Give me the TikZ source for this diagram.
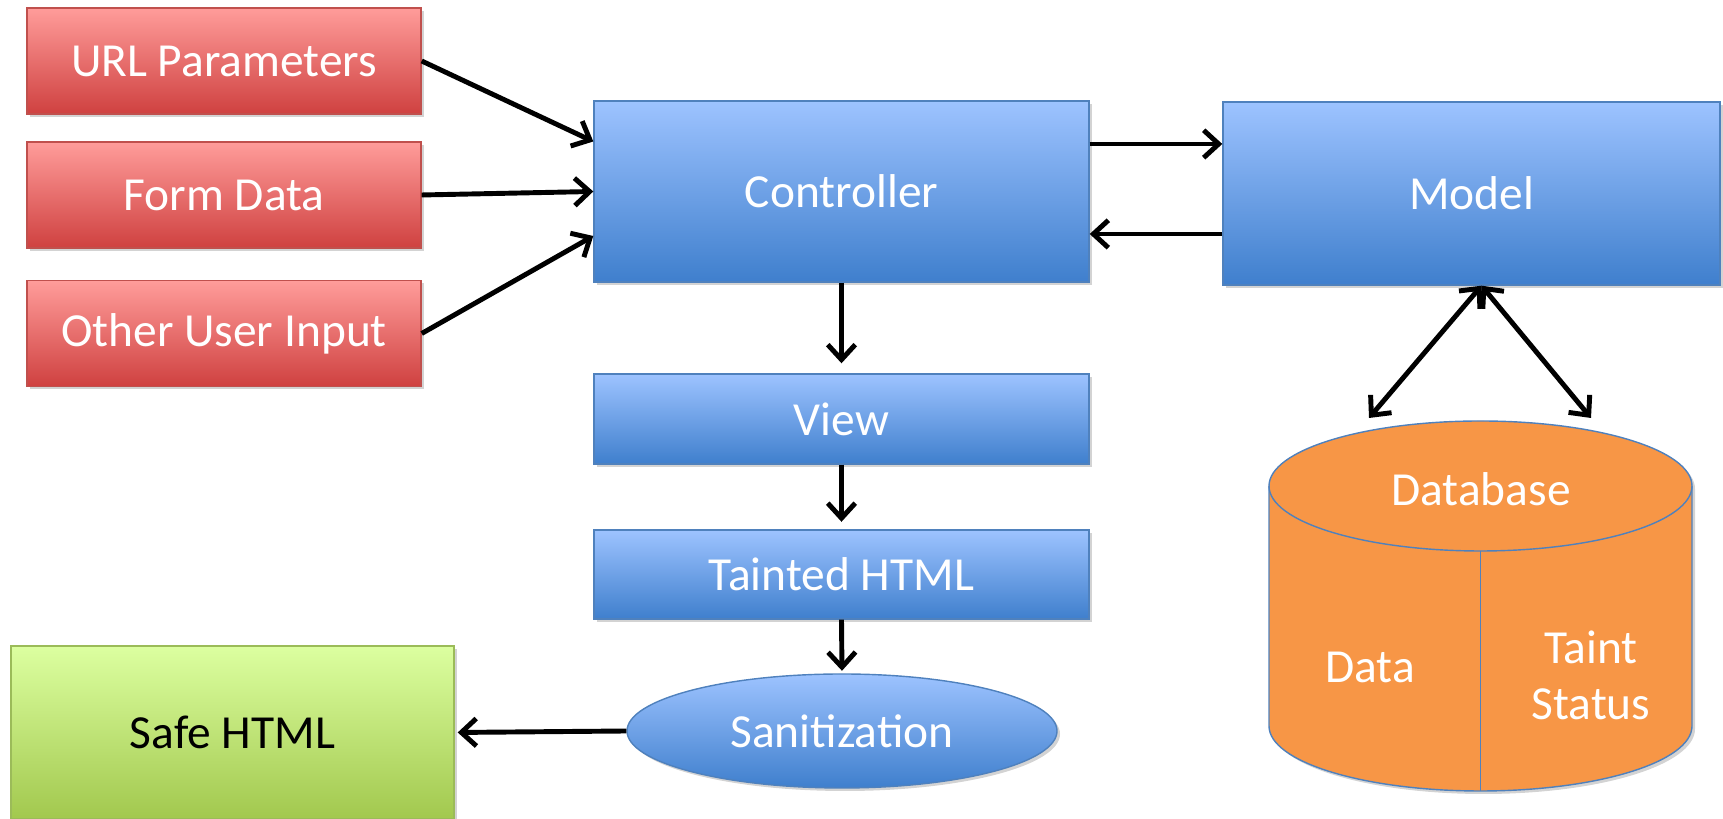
\documentclass[tikz,border=0pt]{standalone}
\usepackage{fontspec}
\setsansfont{Carlito}
\usetikzlibrary{arrows.meta,shapes.geometric,shadows}
\definecolor{redtop}{HTML}{FF9C9A}
\definecolor{redbot}{HTML}{CF4140}
\definecolor{redline}{HTML}{C0504D}
\definecolor{bluetop}{HTML}{9DC3FF}
\definecolor{bluebot}{HTML}{3F7FCD}
\definecolor{blueline}{HTML}{4F81BD}
\definecolor{greentop}{HTML}{DCFFA0}
\definecolor{greenbot}{HTML}{A2C84E}
\definecolor{greenline}{HTML}{9BBB59}
\definecolor{dborange}{HTML}{F79646}

\begin{document}
\begin{tikzpicture}[
  font=\sffamily\fontsize{27}{32}\selectfont,
  flow/.style={-{Straight Barb[length=3mm, width=5.5mm, line width=2.8pt]}, line width=2.8pt, draw=black},
  both/.style={{Straight Barb[length=3mm, width=5.5mm, line width=2.8pt]}-{Straight Barb[length=3mm, width=5.5mm, line width=2.8pt]}, line width=2.8pt, draw=black},
  box/.style={rectangle, align=center, line width=0.8pt, text=white,
              drop shadow={opacity=0.35, shadow xshift=0.6mm, shadow yshift=-0.6mm}},
  input/.style={box, top color=redtop, bottom color=redbot, draw=redline,
                minimum width=7.88cm, minimum height=2.12cm},
  mvc/.style={box, top color=bluetop, bottom color=bluebot, draw=blueline,
              minimum width=9.9cm},
  safe/.style={box, top color=greentop, bottom color=greenbot, draw=greenline, text=black},
  label/.style={text=white, align=center}
]
\useasboundingbox (0,0) rectangle (34.46,16.38);

\node[input] (url) at (4.48,15.16) {URL Parameters};
\node[input] (form) at (4.48,12.48) {Form Data};
\node[input] (other) at (4.48,9.71) {Other User Input};

\node[mvc, minimum height=3.62cm] (ctrl) at (16.83,12.55) {Controller};
\node[mvc, minimum width=9.94cm, minimum height=3.66cm] (model) at (29.43,12.51) {Model};
\node[mvc, minimum height=1.8cm] (view) at (16.83,8.0) {View};
\node[mvc, minimum height=1.78cm] (taint) at (16.83,4.89) {Tainted HTML};
\node[box, ellipse, top color=bluetop, bottom color=bluebot, draw=blueline,
      minimum width=8.6cm, minimum height=2.28cm, inner sep=0pt] (sanit) at (16.84,1.76) {Sanitization};
\node[safe, minimum width=8.86cm, minimum height=3.46cm] (safehtml) at (4.65,1.73) {Safe HTML};

% database cylinder
\fill[dborange, drop shadow={opacity=0.35, shadow xshift=0.6mm, shadow yshift=-0.6mm}]
  (25.38,6.66) -- (25.38,1.86) arc[start angle=180, end angle=360, x radius=4.23, y radius=1.3]
  -- (33.84,6.66) arc[start angle=0, end angle=180, x radius=4.23, y radius=1.3] -- cycle;
\draw[blueline, line width=0.8pt]
  (25.38,6.66) -- (25.38,1.86) arc[start angle=180, end angle=360, x radius=4.23, y radius=1.3]
  -- (33.84,6.66);
\draw[blueline, line width=0.8pt] (29.61,6.66) ellipse[x radius=4.23, y radius=1.3];
\draw[blueline, line width=0.8pt] (29.61,5.36) -- (29.61,0.56);
\node[label] (db) at (29.62,6.6) {Database};
\node[label] (dbdata) at (27.4,3.04) {Data};
\node[label] (dbstatus) at (31.82,2.88) {Taint\\Status};
\coordinate (dbL) at (27.38,8.02);
\coordinate (dbR) at (31.82,8.02);

\draw[flow] (url.east) -- ([yshift=1.0cm]ctrl.west);
\draw[flow] (form.east) -- (ctrl.west);
\draw[flow] (other.east) -- ([yshift=-0.89cm]ctrl.west);
\draw[flow] ([yshift=0.95cm]ctrl.east) -- ([yshift=0.99cm]model.west);
\draw[flow] ([yshift=-0.81cm]model.west) -- ([yshift=-0.85cm]ctrl.east);
\draw[flow, shorten >=2mm] (ctrl.south) -- (view.north);
\draw[flow, shorten >=1.5mm] (view.south) -- (taint.north);
\draw[flow, shorten >=0.5mm] (taint.south) -- (sanit.north);
\draw[flow, shorten >=0.6mm] (sanit.west) -- (safehtml.east);
\draw[both] ([xshift=0.2cm]model.south) -- (dbL);
\draw[both] ([xshift=0.2cm]model.south) -- (dbR);

\end{tikzpicture}
\end{document}
